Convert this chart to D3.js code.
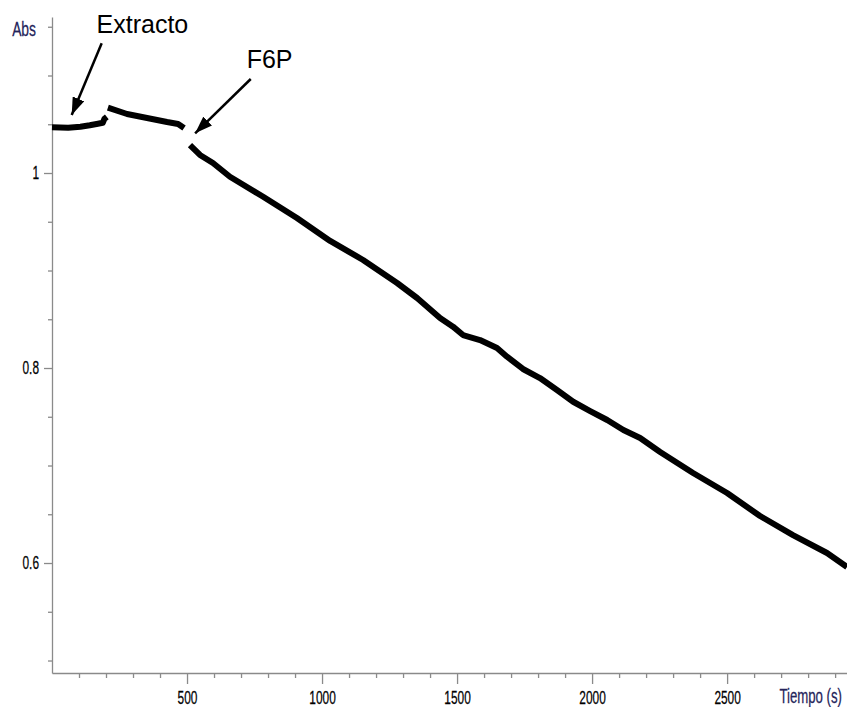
<!DOCTYPE html>
<html>
<head>
<meta charset="utf-8">
<script src="https://cdn.jsdelivr.net/npm/d3@7"></script>
<style>
  html, body { margin: 0; padding: 0; background: #fff; }
  svg { display: block; }
</style>
</head>
<body>
<svg id="chart" width="847" height="707"></svg>
<script>
// Absorbance trace, three recorded segments (time in s, absorbance)
const baselineTime = [0, 60, 105, 140, 170, 188, 194, 203];
const baselineAbs  = [1.0470, 1.0465, 1.0475, 1.0490, 1.0505, 1.0515, 1.0555, 1.0575];

const extractTime = [207, 278, 352, 426, 467, 489];
const extractAbs  = [1.0670, 1.0605, 1.0564, 1.0523, 1.0503, 1.0462];

const reactionTime = [511, 548, 596, 659, 782, 907, 1030, 1152, 1278, 1352, 1437, 1485,
                      1522, 1585, 1648, 1685, 1744, 1807, 1870, 1930, 1993, 2056, 2116,
                      2178, 2252, 2374, 2500, 2622, 2744, 2870, 2944];
const reactionAbs  = [1.0287, 1.0185, 1.0103, 0.9962, 0.9757, 0.9538, 0.9303, 0.9108,
                      0.8872, 0.8718, 0.8513, 0.8424, 0.8338, 0.8287, 0.8205, 0.8116,
                      0.7990, 0.7897, 0.7774, 0.7654, 0.7559, 0.7467, 0.7364, 0.7282,
                      0.7139, 0.6923, 0.6718, 0.6482, 0.6287, 0.6103, 0.5959];

// Axis ticks
const xMajorTicks = [500, 1000, 1500, 2000, 2500];
const xMinorTicks = d3.range(100, 3000, 100).filter(v => v % 500 !== 0);
const yMajorTicks = [0.6, 0.8, 1.0];
const yMinorTicks = [0.5, 0.55, 0.65, 0.7, 0.75, 0.85, 0.9, 0.95, 1.05, 1.1, 1.15];

// Annotations: label position and arrow (tail -> tip), in data units
const annotations = [
  { text: "Extracto", tx: 165, ty: 1.1436, fromT: 184, fromA: 1.133, toT: 73, toA: 1.0595 },
  { text: "F6P",      tx: 721, ty: 1.1082, fromT: 736, fromA: 1.0964, toT: 530, toA: 1.0407 }
];

const svg = d3.select("#chart");
const x = d3.scaleLinear().domain([0, 2944]).range([52, 847]);
const y = d3.scaleLinear().domain([0.4872, 1.16]).range([673, 17]);

const axisColor = "#8a8a8a";
const condensed = "scale(0.66,1)";
const labelFont = "'Liberation Sans', Arial, sans-serif";

// Minor ticks
svg.append("g")
  .attr("transform", `translate(0,${y.range()[0]})`)
  .call(d3.axisBottom(x).tickValues(xMinorTicks).tickSize(5).tickFormat(""))
  .call(g => g.select(".domain").remove());
svg.append("g")
  .attr("transform", `translate(${x.range()[0]},0)`)
  .call(d3.axisLeft(y).tickValues(yMinorTicks).tickSize(4).tickFormat(""))
  .call(g => g.select(".domain").remove());

// Major x axis
const gx = svg.append("g")
  .attr("transform", `translate(0,${y.range()[0]})`)
  .call(d3.axisBottom(x).tickValues(xMajorTicks).tickSize(11).tickSizeOuter(0).tickFormat(d3.format("d")));
gx.selectAll("text")
  .attr("y", 18.5)
  .attr("dy", "0.71em")
  .attr("transform", condensed)
  .style("font-family", labelFont)
  .style("font-size", "18px")
  .attr("fill", "#000")
  .attr("stroke", "#000")
  .attr("stroke-width", 0.25);

// Major y axis
const gy = svg.append("g")
  .attr("transform", `translate(${x.range()[0]},0)`)
  .call(d3.axisLeft(y).tickValues(yMajorTicks).tickSize(8).tickSizeOuter(0).tickFormat(d => String(+d.toFixed(2))));
gy.selectAll("text")
  .attr("x", -13 / 0.66)
  .attr("transform", condensed)
  .style("font-family", labelFont)
  .style("font-size", "18px")
  .attr("fill", "#000")
  .attr("stroke", "#000")
  .attr("stroke-width", 0.25);

svg.selectAll(".domain, .tick line").attr("stroke", axisColor).attr("stroke-width", 1.3);

// Axis titles
svg.append("text")
  .attr("transform", `translate(36,${y(1.15) + 9}) ${condensed}`)
  .attr("text-anchor", "end")
  .style("font-family", labelFont)
  .style("font-size", "21px")
  .attr("fill", "#24245a")
  .attr("stroke", "#24245a")
  .attr("stroke-width", 0.25)
  .text("Abs");
svg.append("text")
  .attr("transform", `translate(842,703) ${condensed}`)
  .attr("text-anchor", "end")
  .style("font-family", labelFont)
  .style("font-size", "20px")
  .attr("fill", "#24245a")
  .attr("stroke", "#24245a")
  .attr("stroke-width", 0.25)
  .text("Tiempo (s)");

// Trace
const line = d3.line().x(d => x(d[0])).y(d => y(d[1]));
const segments = [
  d3.zip(baselineTime, baselineAbs),
  d3.zip(extractTime, extractAbs),
  d3.zip(reactionTime, reactionAbs)
];
svg.append("g")
  .selectAll("path")
  .data(segments)
  .join("path")
  .attr("d", line)
  .attr("fill", "none")
  .attr("stroke", "#000")
  .attr("stroke-width", 6)
  .attr("stroke-linejoin", "round");

// Annotation arrows and labels
svg.append("defs").append("marker")
  .attr("id", "arrowhead")
  .attr("viewBox", "0 0 14 10")
  .attr("refX", 14).attr("refY", 5)
  .attr("markerWidth", 7).attr("markerHeight", 5)
  .attr("markerUnits", "strokeWidth")
  .attr("orient", "auto")
  .append("path")
  .attr("d", "M0,0 L14,5 L0,10 Z")
  .attr("fill", "#000");

const ann = svg.append("g").selectAll("g").data(annotations).join("g");
ann.append("line")
  .attr("x1", d => x(d.fromT)).attr("y1", d => y(d.fromA))
  .attr("x2", d => x(d.toT)).attr("y2", d => y(d.toA))
  .attr("stroke", "#000")
  .attr("stroke-width", 2.5)
  .attr("marker-end", "url(#arrowhead)");
ann.append("text")
  .attr("x", d => x(d.tx)).attr("y", d => y(d.ty))
  .style("font-family", labelFont)
  .style("font-size", "25px")
  .attr("fill", "#000")
  .text(d => d.text);
</script>
</body>
</html>
